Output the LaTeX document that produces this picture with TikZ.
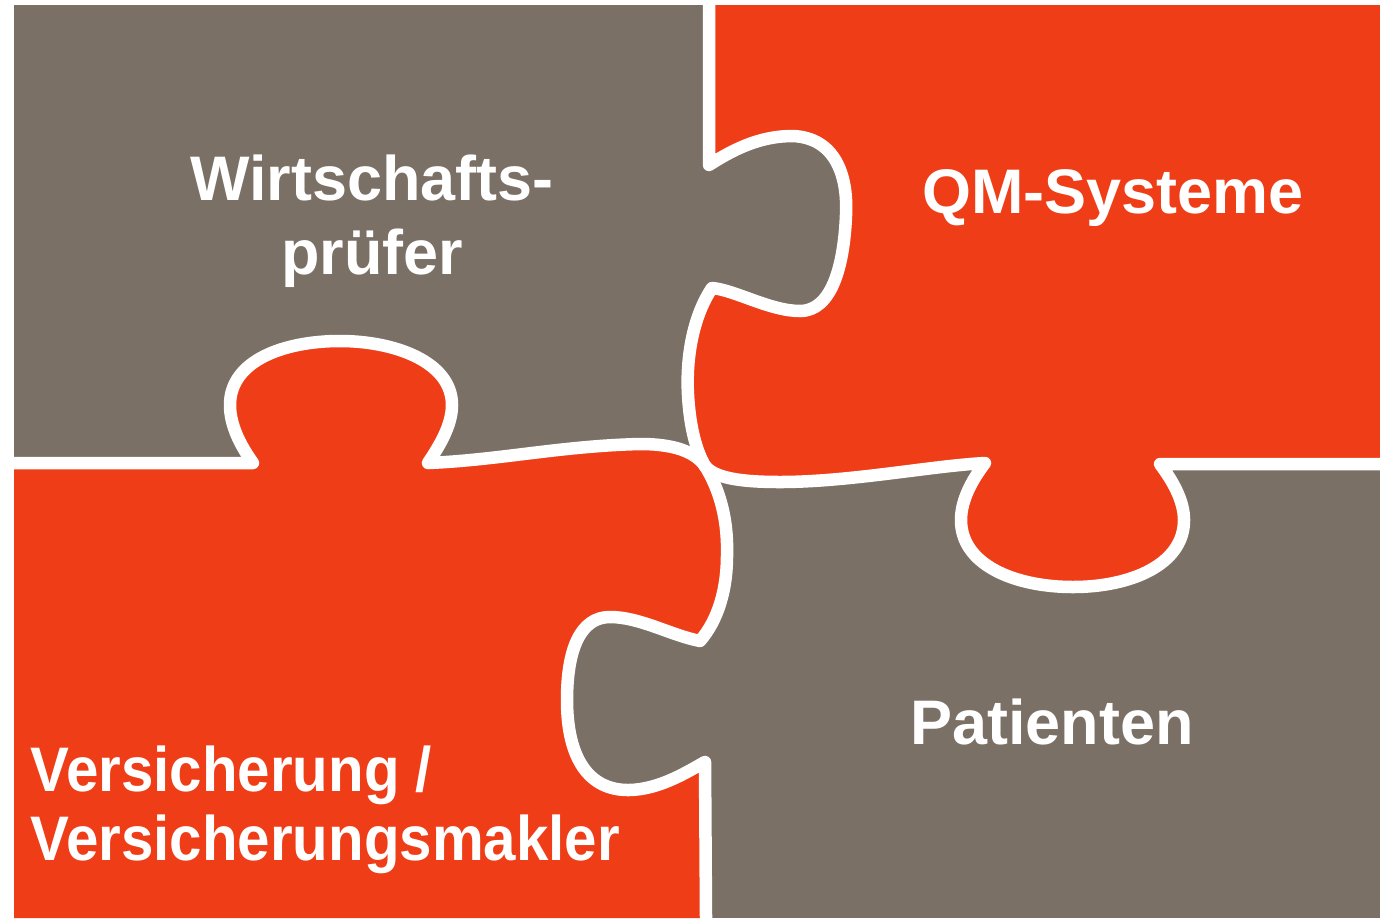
\documentclass[tikz,border=0pt]{standalone}
\usepackage{fontspec}
\setmainfont{Liberation Sans}
\definecolor{pgray}{HTML}{7A7065}
\definecolor{porange}{HTML}{EF3D17}
\begin{document}
\begin{tikzpicture}[x=0.01cm,y=-0.01cm,
  seam/.style={draw=white,line width=0.125cm,line join=round,line cap=round},
  lbl/.style={text=white,inner sep=0pt,font=\fontsize{17.9}{21}\selectfont\bfseries}]
\useasboundingbox (0,0) rectangle (1380,918);
\fill[white] (0,0) rectangle (1380,918);
% path pieces
\def\segA{(709,165) .. controls (740,145) and (765,136) .. (793,136)
  .. controls (835,138) and (848,175) .. (846,215)
  .. controls (844,265) and (832,311) .. (800,311)
  .. controls (770,311) and (735,290) .. (712,288)
  .. controls (692,318) and (686,360) .. (688,395)
  .. controls (690,430) and (697,452) .. (705,466)}
\def\segB{(253,463) .. controls (240,445) and (230,425) .. (230,405)
  .. controls (230,360) and (285,341) .. (340,341)
  .. controls (395,341) and (452,362) .. (452,405)
  .. controls (452,425) and (440,445) .. (428,463)
  .. controls (500,460) and (560,446) .. (640,444)
  .. controls (675,444) and (695,452) .. (705,466)}
\def\segC{.. controls (715,478) and (740,482) .. (780,482)
  .. controls (850,482) and (930,466) .. (985,463)
  .. controls (972,480) and (961,500) .. (961,520)
  .. controls (961,565) and (1015,587) .. (1073,587)
  .. controls (1130,587) and (1184,565) .. (1184,520)
  .. controls (1184,500) and (1172,480) .. (1160,464)}
\def\segD{.. controls (720,490) and (728,520) .. (727,555)
  .. controls (727,590) and (718,620) .. (700,641)
  .. controls (670,635) and (640,617) .. (610,617)
  .. controls (580,617) and (567,650) .. (567,700)
  .. controls (567,760) and (590,790) .. (628,790)
  .. controls (660,790) and (690,770) .. (705,762)}
% base
\fill[pgray] (14,5) rectangle (1380,918);
% top-right orange
\fill[porange] (709,5) -- \segA \segC -- (1380,464) -- (1380,5) -- cycle;
% bottom-left orange
\fill[porange] (14,463) -- \segB \segD -- (706,918) -- (14,918) -- cycle;
% seams
\draw[seam] (709,0) -- \segA;
\draw[seam] (0,463) -- \segB;
\draw[seam] (705,466) \segC -- (1380,464);
\draw[seam] (705,466) \segD -- (706,918);
% labels
\node[lbl,anchor=base] (tl1) at (372,200) {Wirtschafts-};
\node[lbl,anchor=base] (tl2) at (372,274) {prüfer};
\node[lbl,anchor=base] (tr) at (1113,213) {QM-Systeme};
\node[lbl,anchor=base] (br) at (1052,744) {Patienten};
\node[lbl,anchor=base west] (bl1) at (30,791) {\scalebox{0.925}[1]{Versicherung /}};
\node[lbl,anchor=base west] (bl2) at (30,860) {\scalebox{0.925}[1]{Versicherungsmakler}};
\end{tikzpicture}
\end{document}
